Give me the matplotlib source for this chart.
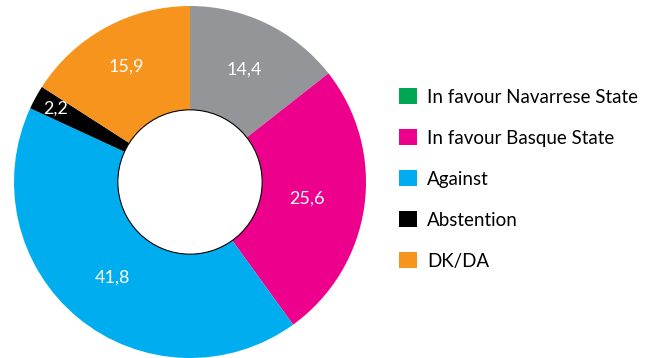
import numpy as np
import matplotlib.pyplot as plt
from matplotlib.patches import Patch, Circle

# Slice values, clockwise from 12 o'clock
values = [14.4, 25.6, 41.8, 2.2, 15.9]
value_labels = ['14,4', '25,6', '41,8', '2,2', '15,9']
slice_colors = ['#939598', '#EC008C', '#00AEEF', '#000000', '#F7941D']

# Legend entries
legend_labels = ['In favour Navarrese State', 'In favour Basque State',
                 'Against', 'Abstention', 'DK/DA']
legend_colors = ['#00A651', '#EC008C', '#00AEEF', '#000000', '#F7941D']

# how far out along the radius each number sits
label_r = [0.71, 0.67, 0.70, 0.87, 0.75]

plt.rcParams['font.family'] = ['Lato', 'DejaVu Sans']

fig = plt.figure(figsize=(6.46, 3.58), dpi=100)
ax = fig.add_axes([14 / 646, 0, 352 / 646, 352 / 358])

hole = 0.41
wedges, _ = ax.pie(values, colors=slice_colors, startangle=90, counterclock=False,
                   radius=1, wedgeprops=dict(width=1 - hole, linewidth=0))
ax.add_patch(Circle((0, 0), hole, facecolor='white', edgecolor='black',
                    linewidth=0.8, zorder=5))

# numbers in the middle of each slice
cum = np.cumsum([0] + values[:-1])
for v, c, txt, r in zip(values, cum, value_labels, label_r):
    ang = np.deg2rad(90 - (c + v / 2) / 100 * 360)
    ax.text(r * np.cos(ang), r * np.sin(ang), txt, color='white',
            fontsize=13, ha='center', va='center')

ax.set_xlim(-1, 1)
ax.set_ylim(-1, 1)
ax.set_aspect('equal')
ax.axis('off')

handles = [Patch(facecolor=c, edgecolor='none') for c in legend_colors]
fig.legend(handles, legend_labels, loc='center left',
           bbox_to_anchor=(399 / 646, 0.5), frameon=False, fontsize=13.5,
           handlelength=0.95, handleheight=0.95, handletextpad=0.55,
           labelspacing=1.25, borderpad=0, borderaxespad=0)

fig.savefig('out.png', dpi=100)
